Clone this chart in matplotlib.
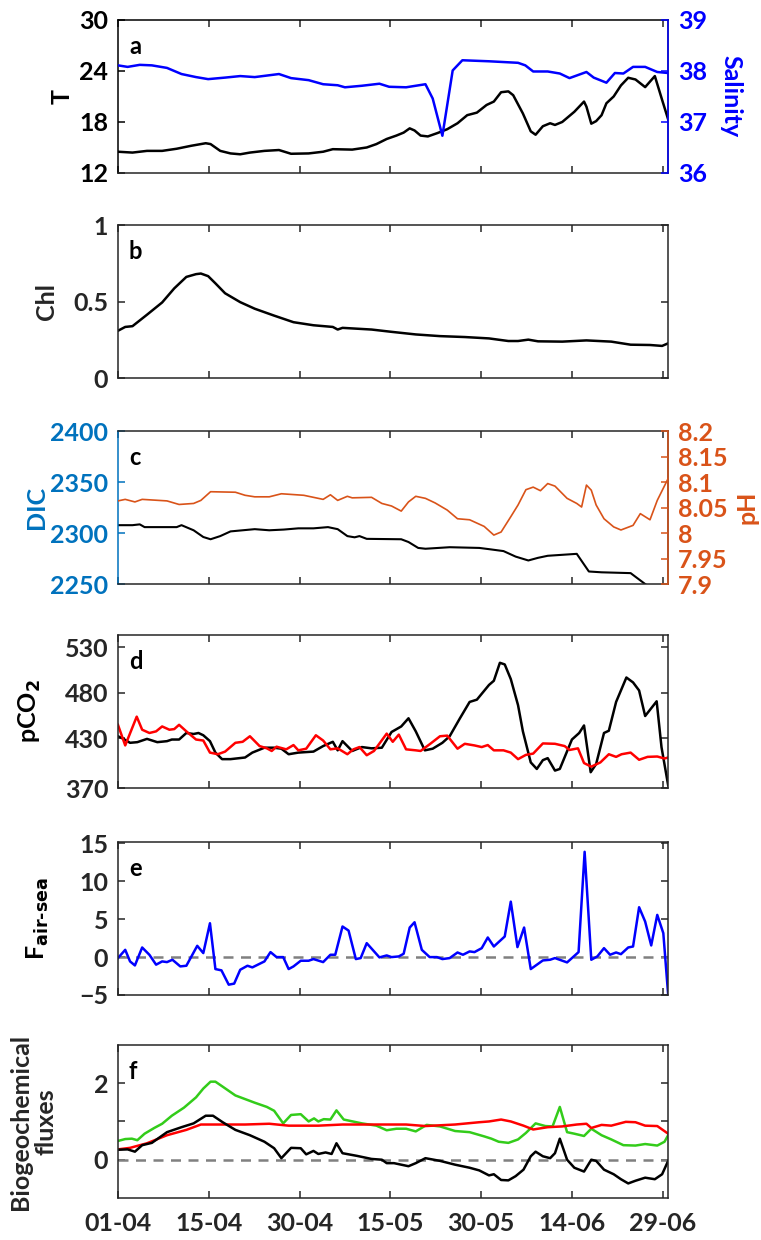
import numpy as np
import matplotlib
matplotlib.use("Agg")
import matplotlib.pyplot as plt

# x axis = days since 01-04, ticks every 15 days
tick_days = [0, 15, 30, 45, 60, 75, 90]
tick_labels = ["01-04", "15-04", "30-04", "15-05", "30-05", "14-06", "29-06"]

# --- panel a: temperature and salinity ---
t_day = [0, 2.4, 4.8, 7.3, 9.7, 12.1, 14.5, 15.3, 16.9, 18.6, 20.2, 21.8, 24.2, 26.6, 28.6,
         31.5, 33.9, 35.5, 38.7, 41.1, 42.7, 44.4, 46.0, 47.2, 48.2, 49.0, 50.0, 51.2, 52.8,
         54.4, 56.1, 57.7, 59.3, 60.9, 62.1, 63.3, 64.5, 65.3, 66.9, 68.2, 69.0, 70.2, 71.4,
         72.2, 73.4, 75.4, 77.0, 77.4, 78.2, 79.0, 79.9, 80.7, 81.9, 83.1, 84.3, 85.5, 87.1,
         88.7, 89.9, 90.9]
temp = [14.5, 14.4, 14.6, 14.6, 14.85, 15.2, 15.5, 15.4, 14.6, 14.3, 14.2, 14.4, 14.6, 14.7, 14.26,
        14.3, 14.5, 14.8, 14.75, 15.0, 15.4, 16.0, 16.4, 16.75, 17.25, 17.0, 16.4, 16.3, 16.7,
        17.15, 17.85, 18.8, 19.1, 20.0, 20.4, 21.5, 21.6, 21.15, 19.0, 16.9, 16.5, 17.5, 17.85,
        17.65, 18.0, 19.2, 20.4, 19.8, 17.8, 18.1, 18.8, 20.2, 21.0, 22.3, 23.2, 23.0, 22.1,
        23.4, 20.6, 18.3]

s_day = [0, 1.6, 3.6, 5.6, 8.1, 10.5, 12.9, 14.9, 17.7, 20.2, 22.6, 26.6, 28.6, 31.5, 33.9,
         36.3, 37.5, 40.3, 43.2, 44.8, 47.6, 50.8, 52.0, 53.6, 55.3, 56.9, 61.3, 66.1, 67.3,
         68.6, 71.0, 73.0, 74.6, 77.4, 78.6, 80.7, 82.1, 83.5, 85.1, 87.1, 89.1, 90.9]
salinity = [38.11, 38.08, 38.12, 38.11, 38.06, 37.94, 37.88, 37.84, 37.87, 37.9, 37.88, 37.94, 37.86,
            37.82, 37.74, 37.72, 37.68, 37.71, 37.75, 37.69, 37.68, 37.74, 37.46, 36.73, 38.01,
            38.21, 38.19, 38.16, 38.11, 37.99, 37.99, 37.95, 37.86, 37.98, 37.87, 37.77, 37.96,
            37.95, 38.08, 38.08, 37.98, 37.96]

# --- panel b: chlorophyll ---
chl_day = [0, 1.2, 2.4, 4.8, 7.3, 9.3, 11.3, 12.9, 13.7, 14.9, 16.1, 17.7, 20.2, 22.6, 25.8,
           29.0, 32.3, 35.5, 36.3, 37.1, 41.9, 45.2, 49.2, 53.2, 57.3, 61.3, 64.5, 66.1, 67.8,
           69.4, 73.4, 77.4, 81.5, 84.7, 87.9, 89.9, 90.9]
chl = [0.31, 0.335, 0.34, 0.415, 0.495, 0.587, 0.662, 0.68, 0.684, 0.667, 0.62, 0.555, 0.497,
       0.454, 0.409, 0.366, 0.346, 0.335, 0.318, 0.329, 0.318, 0.303, 0.286, 0.275, 0.269, 0.26,
       0.243, 0.243, 0.252, 0.241, 0.239, 0.247, 0.239, 0.219, 0.217, 0.211, 0.228]

# --- panel c: DIC and pH ---
dic_day = [0, 2.4, 3.6, 4.4, 9.7, 10.5, 12.5, 14.1, 15.3, 16.9, 18.6, 22.6, 25.0, 27.4, 29.8,
           32.3, 34.7, 36.3, 37.9, 39.1, 39.9, 41.1, 46.8, 48.0, 49.6, 50.8, 54.8, 59.7, 61.3,
           63.7, 65.7, 67.8, 69.4, 71.0, 75.8, 77.8, 79.9, 84.7, 87.1, 88.5]
dic = [2307.7, 2307.7, 2308.5, 2305.8, 2305.8, 2307.7, 2302.7, 2296.1, 2293.9, 2297.0, 2301.6,
       2303.8, 2302.7, 2303.4, 2304.6, 2304.6, 2305.8, 2303.8, 2297.0, 2295.8, 2297.0, 2294.3,
       2293.9, 2291.2, 2285.4, 2284.6, 2286.1, 2285.4, 2284.2, 2282.3, 2276.9, 2273.1, 2275.7,
       2277.7, 2279.6, 2262.3, 2261.5, 2260.7, 2250.0, 2244.0]

ph_day = [0, 1.2, 2.8, 4.0, 8.1, 10.1, 12.5, 13.7, 15.3, 19.4, 21.0, 22.6, 25.0, 27.0, 30.7,
          33.9, 35.1, 36.3, 37.9, 38.7, 41.9, 43.6, 45.2, 46.8, 48.0, 49.2, 50.8, 52.4, 54.4,
          56.1, 58.1, 60.5, 62.1, 63.3, 64.9, 66.1, 67.4, 68.6, 69.8, 71.0, 72.2, 74.2, 75.8,
          76.6, 77.4, 78.2, 79.0, 80.3, 81.9, 83.1, 85.1, 86.3, 87.9, 89.1, 90.9]
ph = [8.063, 8.066, 8.061, 8.066, 8.063, 8.056, 8.058, 8.064, 8.081, 8.080, 8.074, 8.071, 8.071,
      8.077, 8.074, 8.066, 8.075, 8.064, 8.072, 8.069, 8.070, 8.058, 8.053, 8.043, 8.061, 8.072,
      8.068, 8.059, 8.045, 8.028, 8.026, 8.013, 7.996, 8.002, 8.032, 8.055, 8.085, 8.090, 8.083,
      8.097, 8.092, 8.068, 8.058, 8.051, 8.094, 8.084, 8.055, 8.028, 8.012, 8.006, 8.015, 8.038,
      8.026, 8.064, 8.107]

# --- panel d: pCO2 (black = sea, red = air) ---
pco2_day = [0, 0.8, 2.0, 3.2, 4.8, 6.5, 8.1, 8.9, 10.1, 11.3, 12.5, 13.3, 14.1, 15.2, 16.1,
            17.2, 18.6, 21.0, 22.2, 24.2, 25.8, 27.0, 28.2, 29.8, 32.3, 33.9, 35.5, 36.3, 37.1,
            38.7, 40.3, 41.9, 43.6, 45.2, 46.8, 48.0, 49.2, 50.7, 52.0, 53.6, 54.8, 56.5, 58.1,
            59.3, 61.3, 62.1, 63.1, 63.9, 64.9, 66.1, 66.9, 68.2, 69.2, 70.2, 71.0, 72.2, 73.0,
            75.0, 76.2, 77.0, 78.1, 79.0, 80.3, 81.1, 82.3, 84.0, 85.1, 86.1, 87.1, 89.0, 89.8,
            90.9]
pco2_sea = [432, 429.5, 424.8, 425.5, 429.1, 425.5, 426.6, 428.4, 428.4, 435.6, 434.5, 435.6,
            433.1, 426.6, 414.0, 406.8, 406.8, 408.6, 414.0, 419.4, 419.4, 418.3, 412.2, 414.0,
            415.1, 421.2, 425.9, 416.5, 426.6, 415.8, 420.1, 418.7, 419.4, 436.7, 442.8, 451.8,
            437.4, 416.5, 418.3, 424.8, 432.0, 451.8, 469.8, 472.3, 488.5, 493.1, 512.9, 511.1,
            495.0, 466.2, 437.4, 403.2, 396.0, 405.7, 407.9, 394.2, 396.0, 428.4, 435.6, 443.9,
            392.4, 401.4, 435.6, 438.1, 469.8, 496.7, 491.3, 482.4, 454.3, 470.5, 420.0, 378.0]

air_day = [0, 1.2, 3.1, 4.0, 5.2, 6.3, 7.3, 8.5, 9.3, 10.1, 11.3, 12.9, 14.1, 15.2, 16.5, 17.7,
           19.4, 20.6, 21.8, 23.4, 24.6, 25.4, 26.2, 27.8, 29.0, 29.8, 31.1, 32.7, 33.9, 35.1,
           36.3, 37.9, 38.9, 39.9, 41.1, 42.3, 44.4, 45.4, 46.4, 47.6, 49.2, 50.0, 51.6, 53.2,
           54.4, 56.1, 57.3, 58.9, 60.1, 61.1, 62.1, 63.7, 64.9, 66.1, 67.4, 68.6, 70.2, 72.2,
           73.8, 74.6, 76.0, 77.0, 78.2, 79.7, 81.1, 82.3, 83.2, 84.7, 86.1, 87.5, 89.1, 90.3,
           90.9]
pco2_air = [444.6, 421.9, 453.6, 439.2, 435.6, 437.4, 442.8, 439.2, 439.9, 444.6, 437.4, 428.4,
            427.3, 414.0, 412.2, 415.1, 424.8, 425.9, 432.0, 421.2, 418.7, 415.8, 420.5, 417.6,
            422.3, 416.5, 418.3, 433.1, 427.3, 417.6, 418.7, 412.2, 417.6, 420.1, 411.1, 415.8,
            434.9, 425.9, 433.8, 417.6, 416.5, 415.8, 423.7, 432.0, 432.7, 418.3, 423.7, 421.9,
            420.1, 422.3, 416.5, 416.5, 414.0, 406.8, 411.5, 412.9, 424.1, 423.7, 421.2, 416.9,
            418.7, 402.5, 398.5, 403.2, 412.2, 409.3, 412.2, 414.0, 406.1, 409.3, 409.7, 407.5,
            408.6]

# --- panel e: air-sea flux ---
f_day = [0, 1.2, 2.0, 2.8, 4.0, 5.2, 6.3, 7.3, 8.1, 9.0, 10.3, 11.3, 13.1, 14.1, 15.2, 16.1,
         17.1, 18.3, 19.2, 20.2, 21.4, 22.2, 24.2, 25.2, 26.2, 27.3, 28.2, 29.0, 30.2, 31.5,
         32.3, 33.9, 35.1, 35.9, 37.1, 38.1, 39.3, 40.1, 41.1, 43.2, 44.4, 45.2, 46.4, 47.2,
         48.2, 49.0, 50.2, 51.5, 52.7, 53.6, 54.8, 56.1, 57.0, 58.1, 58.9, 60.1, 61.1, 62.1,
         63.9, 64.9, 66.0, 67.1, 68.2, 70.2, 71.4, 72.2, 74.2, 76.1, 77.1, 78.2, 79.2, 80.3,
         81.3, 82.3, 83.1, 84.3, 85.1, 86.1, 87.1, 88.1, 89.1, 90.1, 90.9]
f_airsea = [-0.13, 0.96, -0.57, -1.1, 1.27, 0.3, -1.0, -0.57, -0.66, -0.35, -1.23, -1.14, 1.49,
            0.53, 4.47, -1.58, -1.75, -3.64, -3.5, -1.67, -1.14, -1.36, -0.57, 0.66, 0.0, 0.0,
            -1.58, -1.23, -0.48, -0.48, -0.26, -0.66, 0.31, 0.31, 4.04, 3.5, -0.26, -0.13, 1.84,
            -0.04, 0.22, 0.0, 0.09, 0.44, 3.9, 4.6, 0.96, 0.0, 0.0, -0.26, -0.13, 0.61, 0.31,
            0.75, 0.66, 1.18, 2.59, 1.4, 2.72, 7.32, 1.32, 3.9, -1.58, -0.44, -0.35, -0.13, -0.7,
            0.66, 13.9, -0.35, 0.09, 1.18, 0.31, 0.61, 0.39, 1.27, 1.4, 6.58, 4.69, 1.54, 5.57,
            3.16, -4.96]

# --- panel f: biogeochemical fluxes ---
g_day = [0, 1.2, 2.3, 3.2, 4.4, 6.0, 7.3, 8.9, 10.9, 12.9, 14.1, 15.3, 16.1, 17.3, 19.4, 22.6,
         24.6, 25.8, 27.3, 28.6, 30.2, 31.5, 32.4, 33.1, 34.0, 35.1, 36.1, 37.3, 40.3, 42.7,
         44.4, 46.0, 47.6, 49.2, 51.0, 53.2, 55.7, 58.1, 60.5, 61.7, 62.9, 64.5, 66.1, 67.4,
         69.0, 70.6, 71.8, 73.0, 74.2, 75.4, 77.0, 78.2, 79.9, 81.5, 83.5, 85.5, 87.1, 89.1,
         90.3, 90.9]
flux_green = [0.49, 0.54, 0.55, 0.51, 0.68, 0.83, 0.94, 1.15, 1.36, 1.63, 1.86, 2.04, 2.04, 1.91,
              1.68, 1.49, 1.38, 1.28, 0.95, 1.17, 1.19, 1.0, 1.08, 1.0, 1.06, 1.05, 1.29, 1.05,
              0.95, 0.89, 0.77, 0.81, 0.81, 0.74, 0.91, 0.87, 0.75, 0.72, 0.61, 0.55, 0.47, 0.44,
              0.53, 0.7, 0.95, 0.88, 0.87, 1.38, 0.72, 0.68, 0.62, 0.81, 0.64, 0.53, 0.38, 0.37,
              0.41, 0.37, 0.47, 0.64]

r_day = [0, 2.0, 4.8, 8.1, 11.3, 13.7, 15.3, 21.0, 25.0, 28.2, 33.1, 37.1, 43.6, 47.6, 50.8,
         55.7, 59.7, 61.3, 63.3, 64.9, 67.0, 68.6, 71.0, 73.4, 75.8, 77.4, 78.2, 79.9, 81.5,
         83.9, 85.5, 87.1, 89.1, 90.9]
flux_red = [0.27, 0.31, 0.43, 0.64, 0.78, 0.92, 0.92, 0.92, 0.94, 0.89, 0.89, 0.92, 0.92, 0.92,
            0.88, 0.92, 0.98, 1.0, 1.05, 1.0, 0.89, 0.79, 0.85, 0.87, 0.92, 0.94, 0.83, 0.91,
            0.89, 0.99, 0.98, 0.89, 0.88, 0.68]

k_day = [0, 1.6, 2.8, 4.0, 5.6, 8.1, 10.5, 12.5, 14.5, 15.7, 17.3, 19.4, 21.8, 24.2, 25.8, 27.0,
         28.6, 30.2, 31.1, 32.3, 33.1, 34.3, 35.3, 36.1, 37.1, 39.5, 41.9, 43.6, 44.4, 45.6,
         46.8, 48.0, 49.2, 50.8, 53.2, 55.7, 58.1, 59.7, 61.3, 62.1, 63.3, 64.5, 65.7, 67.0,
         68.2, 69.0, 70.2, 71.4, 72.2, 73.0, 74.2, 75.4, 77.0, 78.2, 79.0, 80.3, 81.9, 83.1,
         84.3, 85.5, 87.1, 88.7, 89.9, 90.9]
flux_black = [0.26, 0.27, 0.21, 0.38, 0.44, 0.72, 0.85, 0.95, 1.15, 1.15, 0.98, 0.78, 0.64, 0.47,
              0.3, 0.04, 0.31, 0.3, 0.14, 0.23, 0.15, 0.19, 0.15, 0.43, 0.17, 0.1, 0.02, 0.0,
              -0.09, -0.09, -0.13, -0.17, -0.09, 0.04, -0.03, -0.13, -0.21, -0.28, -0.41, -0.38,
              -0.53, -0.54, -0.43, -0.26, 0.09, 0.21, 0.09, 0.04, 0.17, 0.55, 0.0, -0.21, -0.31,
              0.0, -0.03, -0.26, -0.38, -0.51, -0.62, -0.55, -0.47, -0.51, -0.38, -0.03]

# colours
gray = "#262626"
dic_blue = "#0072BD"
ph_orange = "#D95319"
sal_blue = "#0000FF"

plt.rcParams["font.family"] = ["Lato", "DejaVu Sans"]
plt.rcParams["font.weight"] = "bold"
plt.rcParams["font.size"] = 18
plt.rcParams["axes.labelweight"] = "bold"
plt.rcParams["axes.linewidth"] = 1.1
plt.rcParams["xtick.direction"] = "in"
plt.rcParams["ytick.direction"] = "in"

fig = plt.figure(figsize=(7.61, 12.4), dpi=100)
left, width, height = 0.155, 0.723, 0.1234
bottoms = [0.8605, 0.695, 0.529, 0.3645, 0.1976, 0.0339]
axes = [fig.add_axes([left, b, width, height]) for b in bottoms]


def style(ax, letter, twin=False):
    ax.set_xlim(0, 90.9)
    ax.set_xticks(tick_days)
    ax.set_xticklabels([])
    ax.tick_params(axis="both", length=5, width=1.1, colors=gray, pad=7,
                   labelsize=18, top=True, right=not twin)
    for s in ax.spines.values():
        s.set_color(gray)
    ax.text(0.02, 0.9, letter, transform=ax.transAxes, fontsize=17,
            fontweight="bold", color="black", va="top", ha="left")


def left_label(ax, text, x, color, **kw):
    # label centred at x (axes fraction)
    ax.set_ylabel(text, color=color, va="center", ha="center", **kw)
    ax.yaxis.set_label_coords(x, 0.5)


# a: T and salinity
ax = axes[0]
ax.plot(t_day, temp, color="black", lw=1.8)
ax.set_ylim(12, 30)
ax.set_yticks([12, 18, 24, 30])
style(ax, "a", twin=True)
ax.tick_params(axis="y", colors="black")
ax.spines["left"].set_color("black")
ax.spines["top"].set_color("black")
left_label(ax, "T", -0.101, "black")
ax2 = ax.twinx()
ax2.plot(s_day, salinity, color=sal_blue, lw=1.8)
ax2.set_ylim(36, 39)
ax2.set_yticks([36, 37, 38, 39])
ax2.tick_params(axis="y", direction="in", length=5, width=1.1, colors=sal_blue,
                pad=7, labelsize=18)
for s in ["left", "top", "bottom"]:
    ax2.spines[s].set_visible(False)
ax2.spines["right"].set_color(sal_blue)
left_label(ax2, "Salinity", 1.115, sal_blue, rotation=-90)

# b: Chl
ax = axes[1]
ax.plot(chl_day, chl, color="black", lw=1.8)
ax.set_ylim(0, 1)
ax.set_yticks([0, 0.5, 1])
ax.set_yticklabels(["0", "0.5", "1"])
style(ax, "b")
left_label(ax, "Chl", -0.129, gray)

# c: DIC and pH
ax = axes[2]
ax.plot(dic_day, dic, color="black", lw=1.5)
ax.set_ylim(2250, 2400)
ax.set_yticks([2250, 2300, 2350, 2400])
style(ax, "c", twin=True)
ax.tick_params(axis="y", colors=dic_blue)
ax.spines["left"].set_color(dic_blue)
left_label(ax, "DIC", -0.148, dic_blue)
ax2 = ax.twinx()
ax2.plot(ph_day, ph, color=ph_orange, lw=1.2)
ax2.set_ylim(7.9, 8.2)
ax2.set_yticks([7.9, 7.95, 8.0, 8.05, 8.1, 8.15, 8.2])
ax2.set_yticklabels(["7.9", "7.95", "8", "8.05", "8.1", "8.15", "8.2"])
ax2.tick_params(axis="y", direction="in", length=5, width=1.1, colors=ph_orange,
                pad=7, labelsize=18)
for s in ["left", "top", "bottom"]:
    ax2.spines[s].set_visible(False)
ax2.spines["right"].set_color(ph_orange)
left_label(ax2, "pH", 1.143, ph_orange, rotation=90)

# d: pCO2
ax = axes[3]
ax.plot(pco2_day, pco2_sea, color="black", lw=1.8)
ax.plot(air_day, pco2_air, color="red", lw=1.8)
ax.set_ylim(375, 543.5)
ax.set_yticks([375, 430, 480, 530])
ax.set_yticklabels(["370", "430", "480", "530"])
style(ax, "d")
left_label(ax, "pCO$_2$", -0.16, "black")

# e: air-sea flux
ax = axes[4]
ax.axhline(0, color="#808080", lw=1.8, ls=(0, (4, 3)))
ax.plot(f_day, f_airsea, color=sal_blue, lw=1.8)
ax.set_ylim(-5, 15.2)
ax.set_yticks([-5, 0, 5, 10, 15])
style(ax, "e")
left_label(ax, "F$_{\\mathbf{air\\text{-}sea}}$", -0.145, "black")

# f: biogeochemical fluxes
ax = axes[5]
ax.axhline(0, color="#808080", lw=1.8, ls=(0, (4, 3)))
ax.plot(g_day, flux_green, color="#33CC1A", lw=1.8)
ax.plot(r_day, flux_red, color="red", lw=1.8)
ax.plot(k_day, flux_black, color="black", lw=1.8)
ax.set_ylim(-1, 3)
ax.set_yticks([0, 1, 2])
ax.set_yticklabels(["0", "", "2"])
style(ax, "f")
ax.set_xticklabels(tick_labels)
ax.tick_params(axis="x", pad=10)
left_label(ax, "Biogeochemical\nfluxes", -0.154, gray, linespacing=1.1)

fig.savefig("out.png", dpi=100)
